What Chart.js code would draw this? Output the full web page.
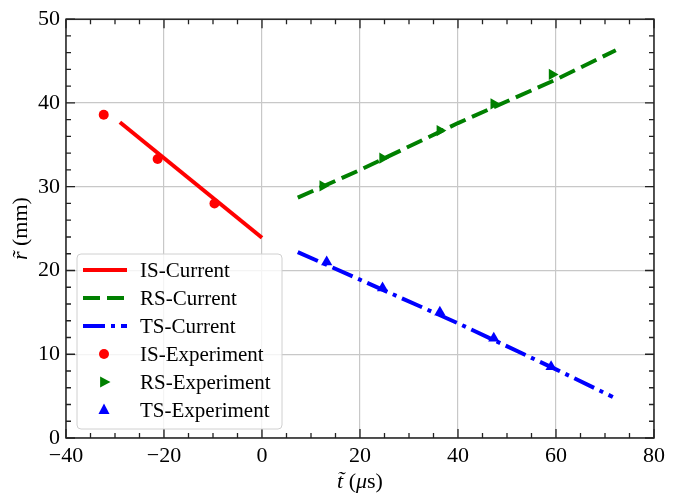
<!DOCTYPE html>
<html>
<head>
<meta charset="utf-8">
<script src="https://cdn.jsdelivr.net/npm/chart.js@4"></script>
<style>
html, body { margin: 0; padding: 0; background: #fff; }
</style>
</head>
<body>
<canvas id="myChart" width="697" height="494"></canvas>
<script>
// Adatok
const isCurrentT = [-29, 0];
const isCurrentR = [37.7, 23.9];
const rsCurrentT = [7.3, 20, 40, 60, 72.2];
const rsCurrentR = [28.7, 32.0, 37.6, 42.8, 46.3];
const tsCurrentT = [7.3, 20, 40, 60, 71.6];
const tsCurrentR = [22.2, 18.9, 13.7, 8.2, 4.9];

const isExpT = [-32.3, -21.3, -9.7];
const isExpR = [38.6, 33.3, 28.0];
const rsExpT = [12.4, 24.6, 36.3, 47.3, 59.2];
const rsExpR = [30.1, 33.4, 36.7, 39.9, 43.4];
const tsExpT = [13.2, 24.6, 36.3, 47.3, 59.0];
const tsExpR = [21.0, 17.9, 15.0, 11.9, 8.5];

const xTicks = [-40, -20, 0, 20, 40, 60, 80];
const yTicks = [0, 10, 20, 30, 40, 50];

const FONT = '"Liberation Serif", "DejaVu Serif", serif';

function pts(xs, ys) {
    return xs.map((x, i) => ({ x: x, y: ys[i] }));
}

// Befelé mutató osztásjelek minden oldalon
const innerTicks = {
    id: 'innerTicks',
    afterDraw(chart) {
        const { ctx, chartArea: a, scales: { x, y } } = chart;
        ctx.save();
        ctx.strokeStyle = '#222';
        ctx.lineWidth = 1.3;
        ctx.beginPath();
        for (let v = -40; v <= 80; v += 5) {
            const px = x.getPixelForValue(v);
            const len = v % 20 === 0 ? 9 : 5;
            ctx.moveTo(px, a.bottom); ctx.lineTo(px, a.bottom - len);
            ctx.moveTo(px, a.top); ctx.lineTo(px, a.top + len);
        }
        for (let v = 0; v <= 50; v += 2) {
            const py = y.getPixelForValue(v);
            const len = v % 10 === 0 ? 9 : 5;
            ctx.moveTo(a.left, py); ctx.lineTo(a.left + len, py);
            ctx.moveTo(a.right, py); ctx.lineTo(a.right - len, py);
        }
        ctx.stroke();
        ctx.lineWidth = 1.5;
        ctx.strokeRect(a.left, a.top, a.right - a.left, a.bottom - a.top);
        ctx.restore();
    }
};

// Tengelyfeliratok vegyes dőlt betűvel
function drawMixed(ctx, parts, cx, cy, size) {
    let w = 0;
    parts.forEach(p => {
        ctx.font = (p[1] ? 'italic ' : '') + size + 'px ' + FONT;
        w += ctx.measureText(p[0]).width;
    });
    let x0 = cx - w / 2;
    parts.forEach(p => {
        ctx.font = (p[1] ? 'italic ' : '') + size + 'px ' + FONT;
        ctx.fillText(p[0], x0, cy);
        x0 += ctx.measureText(p[0]).width;
    });
}

const axisTitles = {
    id: 'axisTitles',
    afterDraw(chart) {
        const { ctx, chartArea: a } = chart;
        ctx.save();
        ctx.fillStyle = '#000';
        ctx.textBaseline = 'middle';
        drawMixed(ctx, [['t\u0303', true], [' (', false], ['\u03bc', true], ['s)', false]],
            (a.left + a.right) / 2, 482, 22);
        ctx.translate(21, (a.top + a.bottom) / 2);
        ctx.rotate(-Math.PI / 2);
        drawMixed(ctx, [['r\u0303', true], [' (mm)', false]], 0, 0, 22);
        ctx.restore();
    }
};

// Jelmagyarázat a diagramon belül
const innerLegend = {
    id: 'innerLegend',
    afterDraw(chart) {
        const { ctx, chartArea: a } = chart;
        const bx = a.left + 11, bw = 205, bh = 175;
        const by = a.bottom - 9 - bh;
        ctx.save();
        ctx.beginPath();
        ctx.roundRect(bx, by, bw, bh, 4);
        ctx.fillStyle = 'rgba(255,255,255,0.8)';
        ctx.fill();
        ctx.strokeStyle = '#d0d0d0';
        ctx.lineWidth = 1;
        ctx.stroke();
        ctx.font = '21px ' + FONT;
        ctx.textBaseline = 'middle';
        chart.data.datasets.forEach((ds, i) => {
            const cy = by + 16 + i * 28;
            if (ds.showLine !== false) {
                ctx.beginPath();
                ctx.setLineDash(ds.borderDash || []);
                ctx.strokeStyle = ds.borderColor;
                ctx.lineWidth = ds.borderWidth;
                ctx.moveTo(bx + 6, cy); ctx.lineTo(bx + 50, cy);
                ctx.stroke();
                ctx.setLineDash([]);
            } else {
                ctx.fillStyle = ds.pointBackgroundColor;
                const mx = bx + 27, r = ds.pointRadius;
                ctx.beginPath();
                if (ds.pointStyle === 'circle') {
                    ctx.arc(mx, cy, r, 0, Math.PI * 2);
                } else if (ds.pointRotation === 90) {
                    ctx.moveTo(mx + r, cy);
                    ctx.lineTo(mx - r * 0.6, cy - r * 0.85);
                    ctx.lineTo(mx - r * 0.6, cy + r * 0.85);
                } else {
                    ctx.moveTo(mx, cy - r);
                    ctx.lineTo(mx - r * 0.85, cy + r * 0.6);
                    ctx.lineTo(mx + r * 0.85, cy + r * 0.6);
                }
                ctx.closePath();
                ctx.fill();
            }
            ctx.fillStyle = '#000';
            ctx.fillText(ds.label, bx + 63, cy + 1);
        });
        ctx.restore();
    }
};

const ctx = document.getElementById('myChart').getContext('2d');
const chart = new Chart(ctx, {
    type: 'line',
    data: {
        datasets: [{
            label: 'IS-Current',
            data: pts(isCurrentT, isCurrentR),
            borderColor: '#ff0000',
            borderWidth: 4,
            pointRadius: 0
        }, {
            label: 'RS-Current',
            data: pts(rsCurrentT, rsCurrentR),
            borderColor: '#008000',
            borderWidth: 4,
            borderDash: [17, 7],
            pointRadius: 0
        }, {
            label: 'TS-Current',
            data: pts(tsCurrentT, tsCurrentR),
            borderColor: '#0000ff',
            borderWidth: 4,
            borderDash: [22, 6, 4, 6],
            pointRadius: 0
        }, {
            label: 'IS-Experiment',
            data: pts(isExpT, isExpR),
            showLine: false,
            pointStyle: 'circle',
            pointRadius: 5,
            pointBackgroundColor: '#ff0000',
            pointBorderWidth: 0
        }, {
            label: 'RS-Experiment',
            data: pts(rsExpT, rsExpR),
            showLine: false,
            pointStyle: 'triangle',
            pointRotation: 90,
            pointRadius: 6.5,
            pointBackgroundColor: '#008000',
            pointBorderWidth: 0
        }, {
            label: 'TS-Experiment',
            data: pts(tsExpT, tsExpR),
            showLine: false,
            pointStyle: 'triangle',
            pointRadius: 6.5,
            pointBackgroundColor: '#0000ff',
            pointBorderWidth: 0
        }]
    },
    options: {
        responsive: false,
        animation: false,
        layout: { padding: { top: 14, right: 43, left: 0, bottom: 0 } },
        plugins: {
            legend: { display: false },
            tooltip: { enabled: false }
        },
        scales: {
            x: {
                type: 'linear',
                min: -40,
                max: 80,
                afterBuildTicks: s => { s.ticks = xTicks.map(v => ({ value: v })); },
                afterFit: s => { s.height = 56; },
                grid: { color: '#c8c8c8', lineWidth: 1.2, drawTicks: false },
                border: { display: false },
                ticks: {
                    padding: 5,
                    color: '#000',
                    font: { family: FONT, size: 22 },
                    callback: v => String(v).replace('-', '\u2212')
                }
            },
            y: {
                type: 'linear',
                min: 0,
                max: 50,
                afterBuildTicks: s => { s.ticks = yTicks.map(v => ({ value: v })); },
                afterFit: s => { s.width = 66; },
                grid: { color: '#c8c8c8', lineWidth: 1.2, drawTicks: false },
                border: { display: false },
                ticks: {
                    padding: 6,
                    color: '#000',
                    font: { family: FONT, size: 22 }
                }
            }
        }
    },
    plugins: [innerTicks, axisTitles, innerLegend]
});
</script>
</body>
</html>
